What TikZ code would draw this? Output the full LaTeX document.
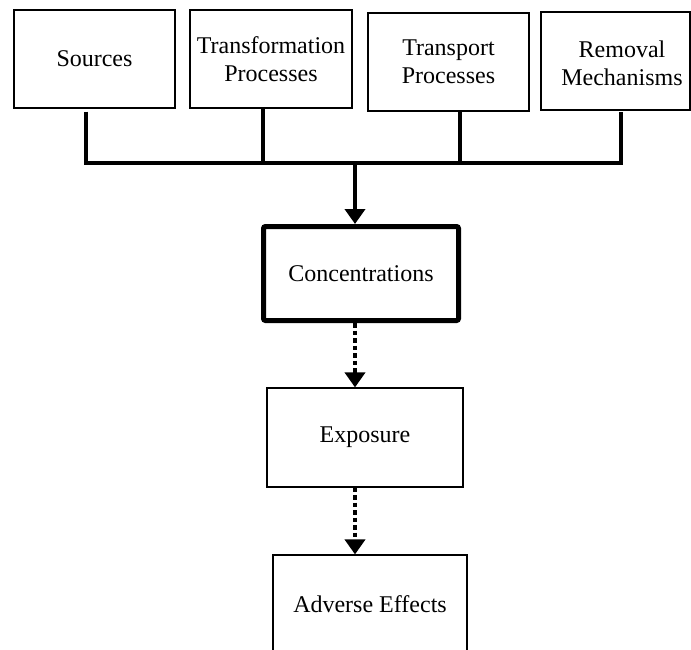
\documentclass[tikz,border=0pt]{standalone}
\usepackage{fontspec}
\setmainfont{Liberation Serif}
\usetikzlibrary{arrows.meta}
\begin{document}
\begin{tikzpicture}[x=1pt,y=-1pt,
 box/.style={draw, line width=1.2pt, align=center, inner sep=0pt, font=\fontsize{24}{28}\selectfont},
 lbl/.style={align=center, inner sep=0pt, font=\fontsize{24}{28}\selectfont},
 busline/.style={line width=4.5pt},
 solidarrow/.style={line width=4.5pt, -{Triangle[width=20pt,length=15pt]}},
 dotarrow/.style={line width=4pt, dash pattern=on 4.5pt off 3pt, -{Triangle[width=20pt,length=15pt]}},
]
\useasboundingbox (0,0) rectangle (691,649);
\clip (0,0) rectangle (691,649);
\node[box, minimum width=161pt, minimum height=98pt] (src) at (94.5,59) {Sources};
\node[box, minimum width=162pt, minimum height=98pt] (trf) at (271,59) {Transformation\\Processes};
\node[box, minimum width=161pt, minimum height=98pt] (trp) at (448.5,62) {Transport\\Processes};
\node[box, minimum width=149pt, minimum height=98pt] (rem) at (615.5,61) {};
\node[lbl] (remtext) at (622,63) {Removal\\Mechanisms};
\node[box, line width=5pt, rounded corners=2pt, minimum width=195pt, minimum height=94pt] (conc) at (361,273.5) {Concentrations};
\node[box, minimum width=196pt, minimum height=99pt] (exp) at (365,437.5) {Exposure};
\node[box, minimum width=194pt, minimum height=99pt] (adv) at (370,604.5) {Adverse Effects};
\coordinate (b1) at (86,163);
\coordinate (b2) at (263,163);
\coordinate (b3) at (460,163);
\coordinate (b4) at (621,163);
\coordinate (bt) at (355,161);
\draw[busline] ([yshift=-3pt]src.south -| b1) -- (b1) -- (b4) -- ([yshift=-1pt]rem.south -| b4);
\draw[busline] (trf.south -| b2) -- (b2);
\draw[busline] (trp.south -| b3) -- (b3);
\draw[solidarrow] (bt) -- (conc.north -| bt);
\draw[dotarrow] (conc.south -| bt) -- (exp.north -| bt);
\draw[dotarrow] (exp.south -| bt) -- (adv.north -| bt);
\end{tikzpicture}
\end{document}
